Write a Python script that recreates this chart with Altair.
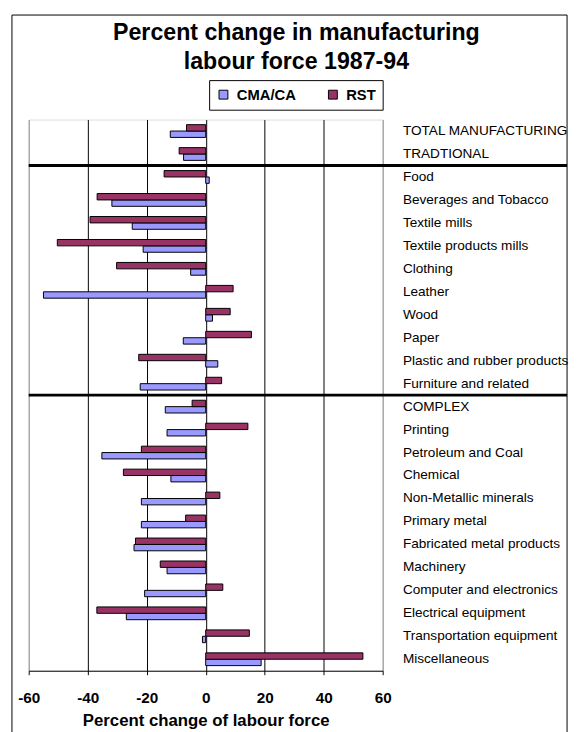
import altair as alt
import pandas as pd

categories = ["TOTAL MANUFACTURING", "TRADTIONAL", "Food", "Beverages and Tobacco",
              "Textile mills", "Textile products mills", "Clothing", "Leather", "Wood",
              "Paper", "Plastic and rubber products", "Furniture and related", "COMPLEX",
              "Printing", "Petroleum and Coal", "Chemical", "Non-Metallic minerals",
              "Primary metal", "Fabricated metal products", "Machinery",
              "Computer and electronics", "Electrical equipment",
              "Transportation equipment", "Miscellaneous"]
cma = [-12.0, -7.5, 1.2, -31.8, -24.9, -21.2, -5.1, -55.0, 2.3, -7.6, 4.1, -22.2,
       -13.7, -13.1, -35.2, -11.8, -21.8, -21.8, -24.3, -13.1, -20.7, -26.9, -1.1, 18.8]
rst = [-6.5, -9.0, -14.1, -36.8, -39.2, -50.3, -30.2, 9.3, 8.3, 15.5, -22.7, 5.4,
       -4.6, 14.3, -21.8, -27.9, 4.8, -6.8, -23.8, -15.4, 5.8, -36.9, 14.8, 53.3]
series = ["CMA/CA", "RST"]
colors = ["#9999FF", "#993366"]
separators = ["Food", "COMPLEX"]
x_ticks = [-60, -40, -20, 0, 20, 40, 60]

rows = []
for c, a, b in zip(categories, cma, rst):
    rows.append({"cat": c, "series": "CMA/CA", "value": a})
    rows.append({"cat": c, "series": "RST", "value": b})
df = pd.DataFrame(rows)
sep_df = pd.DataFrame({"cat": separators})

FONT = "Liberation Sans"
yscale = alt.Scale(domain=categories, paddingInner=0, paddingOuter=0)
xscale = alt.Scale(domain=[-60, 60], nice=False, zero=False)

yaxis = alt.Axis(orient="right", title=None, ticks=False, domain=False,
                 labelAlign="left", labelPadding=20, labelFont=FONT,
                 labelFontSize=13.8, labelColor="black", labelLimit=400,
                 grid=False)

frame = alt.Chart(alt.Data(values=[{}])).mark_rect(
    filled=False, stroke="black", strokeWidth=1
).encode(
    x=alt.value(-17), x2=alt.value(546), y=alt.value(-106), y2=alt.value(700)
)

bars = alt.Chart(df).mark_bar(stroke="black", strokeWidth=1).encode(
    x=alt.X("value:Q", scale=xscale,
            axis=alt.Axis(values=x_ticks, title="Percent change of labour force",
                          grid=True,
                          gridColor={"condition": {"test": "abs(datum.value) == 60", "value": "#888888"},
                                     "value": "#000000"},
                          gridWidth=1, labelExpr="'' + datum.value",
                          labelFlush=False, labelFont=FONT, labelFontSize=15.5,
                          labelFontWeight="bold", labelColor="black", labelPadding=16,
                          tickColor="black", tickSize=4, domainColor="black",
                          titleFont=FONT, titleFontSize=17, titleFontWeight="bold",
                          titleColor="black", titlePadding=7)),
    y=alt.Y("cat:N", scale=yscale, sort=categories, axis=yaxis),
    yOffset=alt.YOffset("series:N", sort=["RST", "CMA/CA"],
                        scale=alt.Scale(domain=["RST", "CMA/CA"], paddingInner=0, paddingOuter=0.8)),
    color=alt.Color("series:N", scale=alt.Scale(domain=series, range=colors),
                    legend=alt.Legend(orient="none", legendX=183, legendY=-40,
                                      direction="horizontal", title=None,
                                      strokeColor="black", fillColor="white", padding=7,
                                      symbolType="square", symbolSize=81,
                                      symbolStrokeColor="black", symbolStrokeWidth=1,
                                      symbolOpacity=1, labelFont=FONT, labelFontSize=15,
                                      labelFontWeight="bold", labelColor="black",
                                      columnPadding=30, labelOffset=6)),
)

seps = alt.Chart(sep_df).mark_rule(color="black", strokeWidth=3).encode(
    y=alt.Y("cat:N", scale=yscale, sort=categories, bandPosition=0, axis=yaxis),
    x=alt.value(0), x2=alt.value(546)
)

chart = alt.layer(frame, bars, seps).properties(
    width=359, height=559,
    padding={"left": 21, "top": 108, "right": 191, "bottom": 57},
    autosize=alt.AutoSizeParams(type="none"),
    background="white",
    title=alt.TitleParams(
        text=["Percent change in manufacturing", "labour force 1987-94"],
        font=FONT, fontSize=23.5, fontWeight="bold", color="black",
        anchor="middle", frame="group", dx=92, lineHeight=30, offset=0,
        baseline="alphabetic", dy=79,
    ),
).configure_view(stroke="#888888", strokeWidth=1).configure(font=FONT)

chart.save("out.html", embed_options={"renderer": "svg", "actions": False})
